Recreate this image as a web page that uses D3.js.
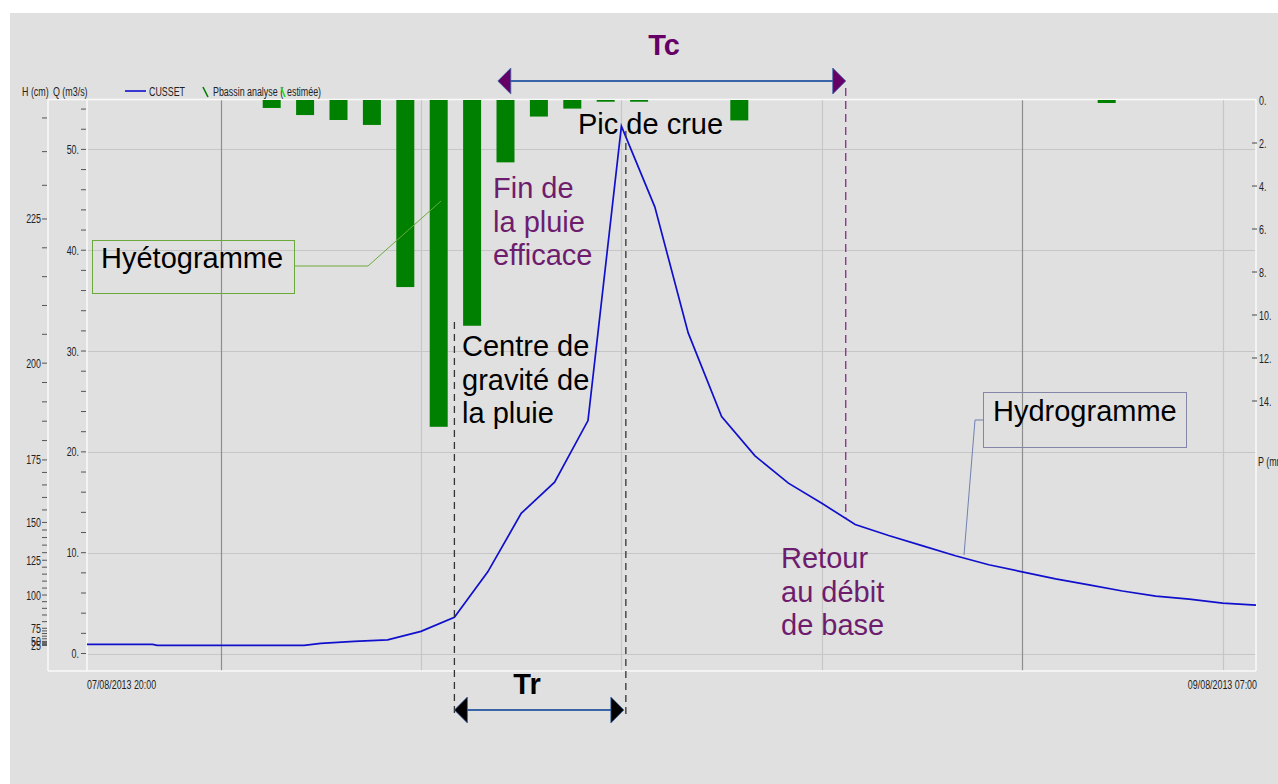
<!DOCTYPE html>
<html><head><meta charset="utf-8">
<script src="https://cdn.jsdelivr.net/npm/d3@7"></script>
<style>body{margin:0;background:#fff;} svg{display:block;}</style>
</head><body><svg id="c" width="1278" height="784"></svg>
<script>
// ---------------- DATA ----------------
const flowTimes = ["2013-08-07 20:00","2013-08-07 21:58","2013-08-07 22:06","2013-08-08 02:30","2013-08-08 03:00",
  "2013-08-08 04:00","2013-08-08 05:00","2013-08-08 06:00","2013-08-08 07:00","2013-08-08 08:00","2013-08-08 09:00",
  "2013-08-08 10:00","2013-08-08 11:00","2013-08-08 12:00","2013-08-08 13:00","2013-08-08 14:00","2013-08-08 15:00",
  "2013-08-08 16:00","2013-08-08 17:00","2013-08-08 18:00","2013-08-08 19:00","2013-08-08 20:00","2013-08-08 21:00",
  "2013-08-08 22:00","2013-08-08 23:00","2013-08-09 00:00","2013-08-09 01:00","2013-08-09 02:00","2013-08-09 03:00",
  "2013-08-09 04:00","2013-08-09 05:00","2013-08-09 06:00","2013-08-09 07:00"];
const flowValues = [0.9,0.9,0.8,0.8,1.0,1.2,1.35,2.2,3.6,8.1,13.9,17.0,23.1,52.3,44.3,31.8,23.5,19.6,16.9,14.9,12.8,
  11.7,10.7,9.7,8.8,8.1,7.4,6.8,6.2,5.7,5.4,5.0,4.8];

const rainStarts = ["2013-08-08 01:00","2013-08-08 02:00","2013-08-08 03:00","2013-08-08 04:00","2013-08-08 05:00",
  "2013-08-08 06:00","2013-08-08 07:00","2013-08-08 08:00","2013-08-08 09:00","2013-08-08 10:00","2013-08-08 11:00",
  "2013-08-08 12:00","2013-08-08 15:00","2013-08-09 02:00"];
const rainValues = [0.37,0.7,0.93,1.16,8.7,15.2,10.5,2.9,0.77,0.4,0.08,0.08,0.95,0.14];

const qTicks = [0,10,20,30,40,50];
const qMinorStep = 2;
const pTicks = [0,2,4,6,8,10,12,14];
const hLabels = [25,50,75,100,125,150,175,200,225];
const ratingH = [25,50,75,100,125,150,175,200,225,250];
const ratingQ = [0.8,1.2,2.5,5.8,9.25,13.0,19.2,28.8,43.1,59.8];
const xStart = "2013-08-07 20:00", xEnd = "2013-08-09 07:00";
const xLabels = ["07/08/2013 20:00","09/08/2013 07:00"];
const legendSeries = ["CUSSET","Pbassin analyse (","estimée)"];

// ---------------- SETUP ----------------
const parse = d3.timeParse("%Y-%m-%d %H:%M");
const svg = d3.select("#c");
const L = 87, R = 1256, T = 99.5, B = 671, HX = 48;
const small = "'Liberation Sans',Arial,sans-serif";
const sans = "'Liberation Sans',Arial,sans-serif";
const purple = "#660066", purpleTxt = "#6e1d6e";
const SF = 12, SQ = 0.74; // small font size and horizontal squeeze

function squeeze(sel){
  sel.each(function(){
    const w = this.getComputedTextLength();
    d3.select(this).attr("textLength", w*SQ).attr("lengthAdjust","spacingAndGlyphs");
  });
  return sel;
}

svg.append("rect").attr("width",1278).attr("height",784).attr("fill","#fff");
svg.append("rect").attr("x",10).attr("y",13).attr("width",1268).attr("height",771).attr("fill","#e0e0e0");

const x = d3.scaleTime().domain([parse(xStart), parse(xEnd)]).range([L, R]);
const yQ = d3.scaleLinear().domain([0,55]).range([653.5, 99]);
const yP = d3.scaleLinear().domain([0,14]).range([100, 401]);
const hToQ = d3.scaleLinear().domain(ratingH).range(ratingQ);

// gridlines
const g = svg.append("g");
g.selectAll(".hg").data(qTicks).join("line")
  .attr("x1",L).attr("x2",R).attr("y1",d=>Math.round(yQ(d))+0.5).attr("y2",d=>Math.round(yQ(d))+0.5)
  .attr("stroke","#c6c6c6").attr("stroke-width",1.2);
const vt = d3.timeHour.every(6).range(parse(xStart), parse(xEnd));
g.selectAll(".vg").data(vt).join("line")
  .attr("x1",d=>Math.round(x(d))+0.5).attr("x2",d=>Math.round(x(d))+0.5).attr("y1",T).attr("y2",B)
  .attr("stroke",d=>d.getHours()===0?"#8e8e8e":"#c6c6c6").attr("stroke-width",1.2);

// frame
const fr = svg.append("g").attr("stroke","#fafafa").attr("stroke-width",1.5);
fr.append("line").attr("x1",HX).attr("x2",R).attr("y1",T).attr("y2",T);
fr.append("line").attr("x1",HX).attr("x2",R).attr("y1",B).attr("y2",B);
fr.append("line").attr("x1",HX).attr("x2",HX).attr("y1",T).attr("y2",B);
fr.append("line").attr("x1",L).attr("x2",L).attr("y1",T).attr("y2",B);
fr.append("line").attr("x1",R).attr("x2",R).attr("y1",T).attr("y2",B);

// Q axis ticks
const qMinor = d3.range(0, 55, qMinorStep);
svg.selectAll(".qt").data(qMinor).join("line")
  .attr("x1",L-6).attr("x2",L-1).attr("y1",d=>yQ(d)).attr("y2",d=>yQ(d)).attr("stroke","#555").attr("stroke-width",1);
squeeze(svg.selectAll(".ql").data(qTicks).join("text")
  .attr("x",L-8).attr("y",d=>yQ(d)+4.5).attr("text-anchor","end")
  .attr("font-family",small).attr("font-size",SF).attr("fill","#222").text(d=>d+"."));

// H axis (rating curve)
const hMinor = d3.range(25, 251, 5).filter(h=>yQ(hToQ(h))>=T+3);
svg.selectAll(".ht").data(hMinor).join("line")
  .attr("x1",HX-6).attr("x2",HX-1).attr("y1",d=>yQ(hToQ(d))).attr("y2",d=>yQ(hToQ(d))).attr("stroke","#555").attr("stroke-width",1);
squeeze(svg.selectAll(".hl").data(hLabels).join("text")
  .attr("x",HX-7).attr("y",d=>yQ(hToQ(d))+4.5).attr("text-anchor","end")
  .attr("font-family",small).attr("font-size",SF).attr("fill","#222").text(d=>d));

// P axis (right)
svg.selectAll(".pt").data(pTicks.filter(d=>d>0)).join("line")
  .attr("x1",R-4).attr("x2",R+1).attr("y1",d=>yP(d)).attr("y2",d=>yP(d)).attr("stroke","#444").attr("stroke-width",1);
squeeze(svg.selectAll(".pl").data(pTicks).join("text")
  .attr("x",R+3).attr("y",d=>yP(d)+4.5)
  .attr("font-family",small).attr("font-size",SF).attr("fill","#222").text(d=>d+"."));
squeeze(svg.append("text").attr("x",R+2).attr("y",yP(16.8)+4.5).attr("font-family",small).attr("font-size",SF).attr("fill","#222").text("P (mm)"));

// x labels
squeeze(svg.append("text").attr("x",L).attr("y",689).attr("font-family",small).attr("font-size",SF).attr("fill","#222").text(xLabels[0]));
squeeze(svg.append("text").attr("x",R+1).attr("y",689).attr("text-anchor","end").attr("font-family",small).attr("font-size",SF).attr("fill","#222").text(xLabels[1]));

// legend
const lg = svg.append("g").attr("font-family",small).attr("font-size",SF).attr("fill","#222");
squeeze(lg.append("text").attr("x",22).attr("y",96).text("H (cm)"));
squeeze(lg.append("text").attr("x",53).attr("y",96).text("Q (m3/s)"));
lg.append("line").attr("x1",125).attr("x2",146).attr("y1",91).attr("y2",91).attr("stroke","#1010cc").attr("stroke-width",1.6);
squeeze(lg.append("text").attr("x",149).attr("y",96).text(legendSeries[0]));
lg.append("line").attr("x1",203).attr("x2",208).attr("y1",87).attr("y2",97).attr("stroke","#008000").attr("stroke-width",1.6);
squeeze(lg.append("text").attr("x",213).attr("y",96).text(legendSeries[1]));
lg.append("line").attr("x1",281).attr("x2",285).attr("y1",87).attr("y2",97).attr("stroke","#22dd22").attr("stroke-width",1.6);
squeeze(lg.append("text").attr("x",287).attr("y",96).text(legendSeries[2]));

// rain bars
const rain = rainStarts.map((t,i)=>({t:parse(t), v:rainValues[i]}));
const bw = 18;
svg.selectAll(".bar").data(rain).join("rect")
  .attr("x",d=>x(d3.timeMinute.offset(d.t,30))-bw/2+1).attr("width",bw)
  .attr("y",yP(0)).attr("height",d=>Math.max(1,yP(d.v)-yP(0)))
  .attr("fill","#008000");

// flow line
const flow = flowTimes.map((t,i)=>({t:parse(t), v:flowValues[i]}));
svg.append("path").datum(flow)
  .attr("d", d3.line().x(d=>x(d.t)).y(d=>yQ(d.v)))
  .attr("fill","none").attr("stroke","#1010cc").attr("stroke-width",1.7);

// ---------------- ANNOTATIONS ----------------
const ann = svg.append("g");
const tCentre = parse("2013-08-08 07:00"), tPeak = parse("2013-08-08 12:08"), tBase = parse("2013-08-08 18:43");
ann.append("line").attr("x1",x(tCentre)).attr("x2",x(tCentre)).attr("y1",322).attr("y2",716)
  .attr("stroke","#333").attr("stroke-width",1.3).attr("stroke-dasharray","7,5");
ann.append("line").attr("x1",x(tPeak)).attr("x2",x(tPeak)).attr("y1",131).attr("y2",716)
  .attr("stroke","#333").attr("stroke-width",1.3).attr("stroke-dasharray","7,5");
ann.append("line").attr("x1",x(tBase)).attr("x2",x(tBase)).attr("y1",88).attr("y2",518)
  .attr("stroke","#8a2a8a").attr("stroke-width",1.3).attr("stroke-dasharray","8,5");

function dblArrow(x1, x2, y, fill){
  ann.append("line").attr("x1",x1+10).attr("x2",x2-10).attr("y1",y).attr("y2",y).attr("stroke","#3a64a8").attr("stroke-width",1.8);
  ann.append("path").attr("d",`M${x1},${y} L${x1+13},${y-13} L${x1+13},${y+13} Z`).attr("fill",fill).attr("stroke","#3a64a8").attr("stroke-width",0.8);
  ann.append("path").attr("d",`M${x2},${y} L${x2-13},${y-13} L${x2-13},${y+13} Z`).attr("fill",fill).attr("stroke","#3a64a8").attr("stroke-width",0.8);
}
const tTcStart = parse("2013-08-08 08:18");
dblArrow(x(tTcStart), x(tBase), 81, purple);
dblArrow(x(tCentre), x(tPeak)-2, 710, "#000");

ann.append("text").attr("x",664).attr("y",55).attr("text-anchor","middle").attr("font-family",sans)
  .attr("font-weight","bold").attr("font-size",29).attr("fill",purple).text("Tc");
ann.append("text").attr("x",527).attr("y",694).attr("text-anchor","middle").attr("font-family",sans)
  .attr("font-weight","bold").attr("font-size",29).attr("fill","#000").text("Tr");

function multi(lines, x0, y0, color){
  const t = ann.append("text").attr("font-family",sans).attr("font-size",29).attr("fill",color);
  lines.forEach((s,i)=>t.append("tspan").attr("x",x0).attr("y",y0+i*33.5).text(s));
}
multi(["Pic de crue"], 578, 134, "#000");
multi(["Fin de","la pluie","efficace"], 493, 198, purpleTxt);
multi(["Centre de","gravité de","la pluie"], 462, 356, "#000");
multi(["Retour","au débit","de base"], 781, 568, purpleTxt);

// callout boxes
ann.append("rect").attr("x",92.5).attr("y",240.5).attr("width",202).attr("height",53).attr("fill","none").attr("stroke","#6aaa3a").attr("stroke-width",1);
ann.append("polyline").attr("points","294.5,266 368,266 441,201").attr("fill","none").attr("stroke","#6aaa3a").attr("stroke-width",1);
multi(["Hyétogramme"], 101, 268, "#000");
ann.append("rect").attr("x",983.5).attr("y",392.5).attr("width",203).attr("height",55).attr("fill","none").attr("stroke","#8585a8").attr("stroke-width",1);
ann.append("polyline").attr("points","983.5,420 975,420 964,555").attr("fill","none").attr("stroke","#7080b0").attr("stroke-width",1);
multi(["Hydrogramme"], 993, 421, "#000");
</script></body></html>
